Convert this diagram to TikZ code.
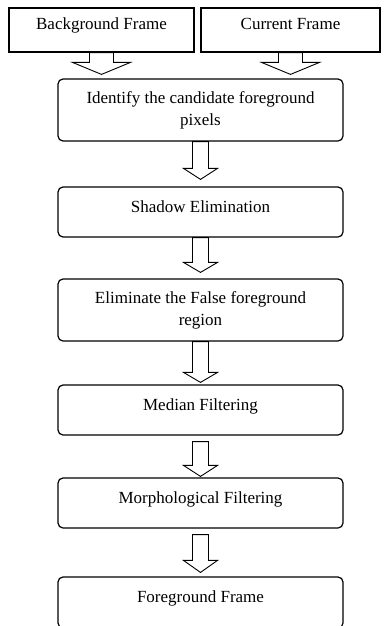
\documentclass[tikz,border=0pt]{standalone}
\usepackage{fontspec}
\setmainfont{Liberation Serif}
\usetikzlibrary{calc}
\tikzset{
  boxbase/.style={draw=black, line width=1.2pt, inner sep=0pt, align=center,
    font=\fontsize{17}{22}\selectfont},
  flatbox/.style={boxbase, rectangle, minimum height=44pt, text height=12pt, text depth=12pt},
  stepbox/.style={boxbase, rectangle, rounded corners=5pt, minimum width=285pt, minimum height=50pt,
    text height=12pt, text depth=12pt},
  twobox/.style={boxbase, rectangle, rounded corners=5pt, minimum width=285pt, minimum height=62pt},
  barrow/.style={draw=black, line width=0.9pt, fill=white}
}
\newcommand\blockarrow[7]{%
  \draw[barrow] let \p1=(#1.south), \p2=(#2.north) in
   (\x1-#6pt,\y1-#3pt) -- (\x1-#6pt,\y2+#5pt+#4pt) -- (\x1-#7pt,\y2+#5pt+#4pt) --
   (\x1,\y2+#5pt) -- (\x1+#7pt,\y2+#5pt+#4pt) -- (\x1+#6pt,\y2+#5pt+#4pt) --
   (\x1+#6pt,\y1-#3pt) -- cycle;}
\begin{document}
\begin{tikzpicture}[x=1pt,y=-1pt]
\useasboundingbox (0,0) rectangle (383,626);
\node[flatbox, minimum width=185pt] (bg) at (101.5,30) {Background Frame};
\node[flatbox, minimum width=179pt] (cur) at (290.5,30) {Current Frame};
\node[twobox] (id) at (200.5,110) {Identify the candidate foreground\\pixels};
\node[stepbox] (sh) at (200.5,212) {Shadow Elimination};
\node[twobox] (el) at (200.5,310) {Eliminate the False foreground\\region};
\node[stepbox] (me) at (200.5,410) {Median Filtering};
\node[stepbox] (mo) at (200.5,503) {Morphological Filtering};
\node[stepbox, minimum height=51pt] (fg) at (200.5,602.5) {Foreground Frame};
% from, to, startgap, headlen, endgap, shafthalf, headhalf
\blockarrow{bg}{id}{0}{12}{4}{12}{29}
\blockarrow{cur}{id}{0}{12}{4}{12}{29}
\blockarrow{id}{sh}{0}{11}{7}{8}{17}
\blockarrow{sh}{el}{0}{10}{6}{8}{17}
\blockarrow{el}{me}{0}{10}{2}{8}{17}
\blockarrow{me}{mo}{6}{11}{1}{8}{17}
\blockarrow{mo}{fg}{6}{12}{4}{8}{17}
\end{tikzpicture}
\end{document}
